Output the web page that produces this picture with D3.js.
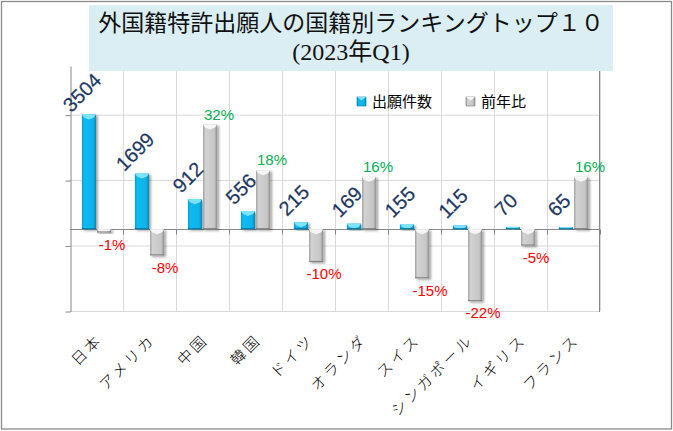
<!DOCTYPE html>
<html>
<head>
<meta charset="utf-8">
<script src="https://cdn.jsdelivr.net/npm/d3@7/dist/d3.min.js"></script>
<style>
  html, body { margin: 0; padding: 0; background: #fff; }
  svg { display: block; }
</style>
</head>
<body>
<svg width="673" height="431"></svg>
<script>
/////////////////////////
// données
/////////////////////////
var countries = ["日本", "アメリカ", "中国", "韓国", "ドイツ", "オランダ", "スイス", "シンガポール", "イギリス", "フランス"];
var filings = [3504, 1699, 912, 556, 215, 169, 155, 115, 70, 65];   // 出願件数
var yoy = [-1, -8, 32, 18, -10, 16, -15, -22, -5, 16];              // 前年比 (%)
var seriesNames = ["出願件数", "前年比"];
var countDomain = [-2500, 5000];
var pctDomain = [-25, 50];
var gridValues = [-2500, -500, 1500, 3500];
var titleLines = ["外国籍特許出願人の国籍別ランキングトップ１０", "(2023年Q1)"];

var svg = d3.select("svg");
var W = 673, H = 431;
var plot = { left: 70, right: 600, top: 65.5, bottom: 311 };

var x = d3.scaleBand()
    .domain(countries)
    .range([plot.left, plot.right])
    .paddingInner(0.43)
    .paddingOuter(0.215);
var xs = d3.scaleBand().domain(seriesNames).range([0, x.bandwidth()]);
var y1 = d3.scaleLinear().domain(countDomain).range([plot.bottom, plot.top]);
var y2 = d3.scaleLinear().domain(pctDomain).range([plot.bottom, plot.top]);

// dégradés + ombre
var defs = svg.append("defs");
function hGrad(id, stops) {
    var g = defs.append("linearGradient").attr("id", id)
        .attr("x1", "0%").attr("x2", "100%").attr("y1", "0%").attr("y2", "0%");
    stops.forEach(function(s){ g.append("stop").attr("offset", s[0]).attr("stop-color", s[1]); });
}
hGrad("gBlue", [["0%", "#0899CF"], ["18%", "#10BCF2"], ["80%", "#0BB3EA"], ["100%", "#0683B6"]]);
hGrad("gGray", [["0%", "#A2A2A2"], ["18%", "#D2D2D2"], ["80%", "#C6C6C6"], ["100%", "#8E8E8E"]]);
defs.append("filter").attr("id", "shadow")
    .attr("x", "-30%").attr("y", "-10%").attr("width", "180%").attr("height", "130%")
    .append("feDropShadow")
    .attr("dx", 2).attr("dy", 1.5).attr("stdDeviation", 1.3)
    .attr("flood-color", "#000").attr("flood-opacity", 0.35);

// cadre extérieur
svg.append("rect")
    .attr("x", 1.5).attr("y", 1.5).attr("width", W - 3).attr("height", H - 3.5)
    .attr("fill", "#fff").attr("stroke", "#8a8a8a").attr("stroke-width", 1.3);

/////////////////////////
// grille et axes
/////////////////////////
var grid = svg.append("g").attr("id", "grid");
grid.selectAll(".hg").data(gridValues).enter().append("line")
    .attr("x1", plot.left).attr("x2", plot.right)
    .attr("y1", function(d){ return y1(d) + 0.5; })
    .attr("y2", function(d){ return y1(d) + 0.5; })
    .attr("stroke", "#d9d9d9");
grid.selectAll(".vg").data(countries.slice(1).concat(["end"])).enter().append("line")
    .attr("x1", function(d, i){ return Math.round(plot.left + (i + 1) * x.step()) + 0.5; })
    .attr("x2", function(d, i){ return Math.round(plot.left + (i + 1) * x.step()) + 0.5; })
    .attr("y1", plot.top).attr("y2", plot.bottom)
    .attr("stroke", "#d9d9d9");

// axe gauche (sans libellés)
svg.append("g")
    .attr("transform", "translate(" + (plot.left + 0.5) + ",0.5)")
    .call(d3.axisLeft(y1).tickValues(gridValues).tickSize(5).tickSizeOuter(0).tickFormat(""))
    .call(function(g){ g.selectAll("path, line").attr("stroke", "#868686"); });

// axe droit (ligne seule)
svg.append("line")
    .attr("x1", plot.right - 0.5).attr("x2", plot.right - 0.5)
    .attr("y1", plot.top).attr("y2", plot.bottom + 1)
    .attr("stroke", "#868686");

// axe horizontal au zéro
var zeroY = Math.round(y1(0)) + 0.5;
svg.append("line")
    .attr("x1", plot.left).attr("x2", plot.right)
    .attr("y1", zeroY).attr("y2", zeroY)
    .attr("stroke", "#868686");
svg.append("g").selectAll("line")
    .data(d3.range(countries.length)).enter().append("line")
    .attr("x1", function(i){ return Math.round(plot.left + (i + 1) * x.step()) + 0.5; })
    .attr("x2", function(i){ return Math.round(plot.left + (i + 1) * x.step()) + 0.5; })
    .attr("y1", zeroY).attr("y2", zeroY + 5)
    .attr("stroke", "#868686");

/////////////////////////
// barres
/////////////////////////
var bars = [];
countries.forEach(function(c, i){
    bars.push({ cat: c, s: seriesNames[0], v: filings[i], y: y1, fill: "url(#gBlue)", bevel: "#7EE3FF", edge: "#0478A8" });
    bars.push({ cat: c, s: seriesNames[1], v: yoy[i], y: y2, fill: "url(#gGray)", bevel: "#F6F6F6", edge: "#7C7C7C" });
});

var gb = svg.append("g").attr("id", "bars");
var bar = gb.selectAll(".bar").data(bars).enter().append("g")
    .attr("class", "bar")
    .attr("filter", "url(#shadow)");

function bx(d){ return x(d.cat) + xs(d.s); }
function btop(d){ return Math.min(d.y(d.v), d.y(0)); }
function bh(d){ return Math.max(1.5, Math.abs(d.y(d.v) - d.y(0))); }

bar.append("rect")
    .attr("x", function(d){ return bx(d) + 0.5; })
    .attr("y", btop)
    .attr("width", xs.bandwidth() - 1)
    .attr("height", bh)
    .attr("fill", function(d){ return d.fill; });

// biseau du haut
bar.append("path")
    .attr("d", function(d){
        var x0 = bx(d) + 0.5, w = xs.bandwidth() - 1, t = btop(d);
        var b = Math.min(5, bh(d));
        return "M" + x0 + "," + t + "H" + (x0 + w) + "L" + (x0 + w - 2) + "," + (t + b * 0.6)
            + "L" + (x0 + w / 2) + "," + (t + b) + "L" + (x0 + 2) + "," + (t + b * 0.6) + "Z";
    })
    .attr("fill", function(d){ return d.bevel; });

// arête du bas
bar.append("line")
    .attr("x1", function(d){ return bx(d) + 0.5; })
    .attr("x2", function(d){ return bx(d) + xs.bandwidth() - 0.5; })
    .attr("y1", function(d){ return btop(d) + bh(d) - 0.5; })
    .attr("y2", function(d){ return btop(d) + bh(d) - 0.5; })
    .attr("stroke", function(d){ return d.edge; });

/////////////////////////
// étiquettes de données
/////////////////////////
var labels = svg.append("g").attr("id", "labels")
    .attr("font-family", "'Liberation Sans', Arial, sans-serif");

labels.selectAll(".cnt").data(bars.filter(function(d){ return d.s === seriesNames[0]; }))
    .enter().append("text")
    .attr("transform", function(d){
        var cx = bx(d) + xs.bandwidth() / 2 - 7, cy = d.y(d.v) - 22;
        return "translate(" + cx + "," + cy + ") rotate(-45)";
    })
    .attr("text-anchor", "middle")
    .attr("dy", "0.35em")
    .attr("font-size", "20px")
    .attr("stroke", "#1F3864").attr("stroke-width", 0.2)
    .attr("fill", "#1F3864")
    .text(function(d){ return d.v; });

labels.selectAll(".pct").data(bars.filter(function(d){ return d.s === seriesNames[1]; }))
    .enter().append("text")
    .attr("x", function(d){ return bx(d) + xs.bandwidth() / 2 + (d.v >= 0 ? 9 : 8); })
    .attr("y", function(d){ return d.y(d.v) + (d.v >= 0 ? -10 : 12); })
    .attr("text-anchor", "middle")
    .attr("dy", "0.35em")
    .attr("font-size", "15px")
    .attr("fill", function(d){ return d.v >= 0 ? "#00B050" : "#FF0000"; })
    .text(function(d){ return d.v + "%"; });

// libellés des catégories
svg.append("g").attr("id", "cats")
    .selectAll("text").data(countries).enter().append("text")
    .attr("transform", function(d){
        return "translate(" + (x(d) + x.bandwidth() / 2 + 3) + ",337) rotate(-45)";
    })
    .attr("text-anchor", "end")
    .attr("dy", "0.35em")
    .attr("font-family", "'Noto Sans CJK JP', sans-serif")
    .attr("font-weight", 300)
    .attr("font-size", "15px")
    .attr("letter-spacing", "3px")
    .attr("fill", "#000")
    .text(function(d){ return d; });

/////////////////////////
// légende
/////////////////////////
var legend = svg.append("g").attr("id", "legend")
    .attr("font-family", "'Noto Sans CJK JP', sans-serif")
    .attr("font-size", "15px");
var legX = d3.scaleOrdinal().domain(seriesNames).range([357, 466]);
var leg = legend.selectAll("g").data(bars.slice(0, 2)).enter().append("g")
    .attr("transform", function(d){ return "translate(" + legX(d.s) + ",97)"; });
leg.append("rect").attr("width", 9).attr("height", 9)
    .attr("fill", function(d){ return d.fill; })
    .attr("stroke", function(d){ return d.edge; }).attr("stroke-width", 0.6);
leg.append("path").attr("d", "M0,0H9L4.5,3.5Z").attr("fill", function(d){ return d.bevel; });
leg.append("text").attr("x", 15).attr("y", 4.5).attr("dy", "0.35em")
    .attr("fill", "#000")
    .text(function(d){ return d.s; });

/////////////////////////
// titre
/////////////////////////
var title = svg.append("g").attr("id", "title");
title.append("rect")
    .attr("x", 89).attr("y", 5).attr("width", 524).attr("height", 66)
    .attr("fill", "#DAEEF3");
title.selectAll("text").data(titleLines).enter().append("text")
    .attr("x", 351)
    .attr("y", function(d, i){ return i === 0 ? 31 : 60; })
    .attr("text-anchor", "middle")
    .attr("font-family", "'Liberation Serif', 'Noto Sans CJK JP', serif")
    .attr("font-size", function(d, i){ return i === 0 ? "23px" : "24px"; })
    .attr("fill", "#111")
    .text(function(d){ return d; });
</script>
</body>
</html>
